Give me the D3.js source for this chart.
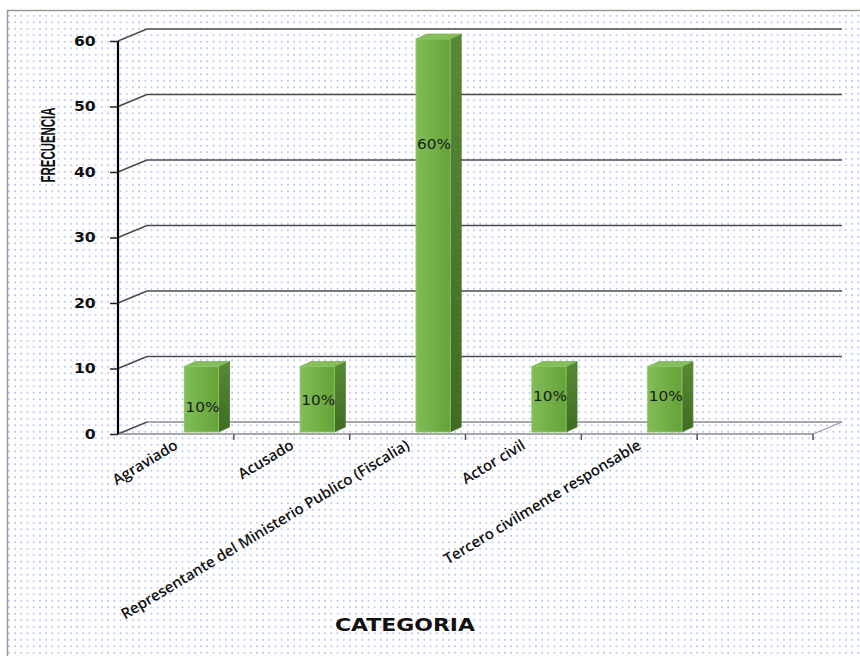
<!DOCTYPE html>
<html>
<head>
<meta charset="utf-8">
<script src="https://cdn.jsdelivr.net/npm/d3@7"></script>
<style>
  html, body { margin: 0; padding: 0; background: #fff; }
  svg { display: block; }
</style>
</head>
<body>
<svg id="chart" width="860" height="656"></svg>
<script>
// ---- data ----
const categories = ["Agraviado", "Acusado", "Representante del Ministerio Publico (Fiscalia)", "Actor civil", "Tercero civilmente responsable", ""];
const frequencies = [10, 10, 60, 10, 10, null];
const percentLabels = ["10%", "10%", "60%", "10%", "10%", ""];
const yTicks = [0, 10, 20, 30, 40, 50, 60];
const yTitle = "FRECUENCIA";
const xTitle = "CATEGORIA";
// label anchor (in value units, measured from bar base) - placement config
const labelAt = [3.8, 4.9, 44.0, 5.6, 5.6, 0];

const svg = d3.select("#chart");
const W = 860, H = 656;

// ---- defs ----
const defs = svg.append("defs");
const pat = defs.append("pattern").attr("id", "dots")
  .attr("patternUnits", "userSpaceOnUse").attr("width", 6.2).attr("height", 6.5);
pat.append("rect").attr("x", 2).attr("y", 2).attr("width", 1.5).attr("height", 1.5).attr("fill", "#9bb3e5");

const gFront = defs.append("linearGradient").attr("id", "front").attr("x1", "0").attr("x2", "1").attr("y1", "0").attr("y2", "0");
gFront.append("stop").attr("offset", "0").attr("stop-color", "#82bd57");
gFront.append("stop").attr("offset", "1").attr("stop-color", "#64a338");
const gSide = defs.append("linearGradient").attr("id", "side").attr("x1", "0").attr("x2", "0").attr("y1", "0").attr("y2", "1");
gSide.append("stop").attr("offset", "0").attr("stop-color", "#588a36");
gSide.append("stop").attr("offset", "1").attr("stop-color", "#3f6c22");

// ---- background ----
svg.append("rect").attr("x", 7).attr("y", 10).attr("width", W - 7).attr("height", H - 10).attr("fill", "#fff");
svg.append("rect").attr("x", 7).attr("y", 10).attr("width", W - 7).attr("height", H - 10).attr("fill", "url(#dots)");
svg.append("path").attr("d", `M7.5,${H} L7.5,10.5 L${W},10.5`).attr("fill", "none").attr("stroke", "#9a9a9a").attr("stroke-width", 1.5);

// ---- scales ----
const x0 = 118, x1 = 813;
const depthX = 29, depthY = -12;
const x = d3.scaleBand().domain(d3.range(categories.length)).range([x0, x1]).padding(0);
const y = d3.scaleLinear().domain([0, 60]).range([434, 41]);
const bw = x.bandwidth();

// ---- back wall gridlines ----
const grid = svg.append("g");
yTicks.forEach(t => {
  const yy = y(t);
  grid.append("line").attr("x1", x0 + depthX).attr("x2", x1 + depthX)
    .attr("y1", yy + depthY).attr("y2", yy + depthY)
    .attr("stroke", t === 0 ? "#8a8a8a" : "#4a4a4a").attr("stroke-width", t === 0 ? 1.6 : 1.6);
  grid.append("line").attr("x1", x0).attr("x2", x0 + depthX)
    .attr("y1", yy).attr("y2", yy + depthY)
    .attr("stroke", "#4a4a4a").attr("stroke-width", 1.4);
});

// floor front edge and right edge
svg.append("line").attr("x1", x0).attr("x2", x1).attr("y1", y(0)).attr("y2", y(0))
  .attr("stroke", "#8a8a8a").attr("stroke-width", 1.6);
svg.append("line").attr("x1", x1).attr("x2", x1 + depthX).attr("y1", y(0)).attr("y2", y(0) + depthY)
  .attr("stroke", "#9a9a9a").attr("stroke-width", 1.3);
// category boundary ticks
d3.range(1, categories.length + 1).forEach(i => {
  const xx = x0 + i * bw;
  svg.append("line").attr("x1", xx).attr("x2", xx).attr("y1", y(0)).attr("y2", y(0) + 6)
    .attr("stroke", "#555").attr("stroke-width", 1.5);
});

// ---- bars ----
const base = y(0) - 2;
const unit = (y(0) - y(60)) / 60;
const bx = i => x(i) + bw * 0.573;
const bwid = bw * 0.295;
const sdx = 11, sdy = -5;
const bars = svg.append("g");
frequencies.forEach((v, i) => {
  if (v == null) return;
  const left = bx(i), right = left + bwid, top = base - v * unit;
  bars.append("path").attr("d", `M${right},${top} L${right + sdx},${top + sdy} L${right + sdx},${base + sdy} L${right},${base} Z`)
    .attr("fill", "url(#side)").attr("stroke", "#4c7a2e").attr("stroke-width", 0.8);
  bars.append("path").attr("d", `M${left},${top} L${left + sdx},${top + sdy} L${right + sdx},${top + sdy} L${right},${top} Z`)
    .attr("fill", "#86be5c").attr("stroke", "#7fb455").attr("stroke-width", 0.8);
  bars.append("rect").attr("x", left).attr("y", top).attr("width", bwid).attr("height", base - top)
    .attr("fill", "url(#front)").attr("stroke", "#8cc564").attr("stroke-width", 1);
  bars.append("text").attr("x", left + bwid / 2 + 1).attr("y", base - labelAt[i] * unit)
    .attr("dy", "0.36em").attr("text-anchor", "middle")
    .attr("font-family", "DejaVu Sans, Verdana, sans-serif").attr("font-size", 14.5)
    .attr("fill", "#1a1a1a").attr("textLength", 34).attr("lengthAdjust", "spacingAndGlyphs")
    .text(percentLabels[i]);
});

// ---- y axis ----
const yAxis = d3.axisLeft(y).tickValues(yTicks).tickSize(8).tickPadding(12).tickFormat(d3.format("d"));
const gy = svg.append("g").attr("transform", `translate(${x0},0)`).call(yAxis);
gy.select(".domain").attr("stroke", "#000").attr("stroke-width", 2.2).attr("d", `M0,${y(60)}V${y(0)}`);
gy.selectAll(".tick line").attr("stroke", "#222").attr("stroke-width", 1.5);
gy.selectAll(".tick text").attr("font-family", "DejaVu Sans, Verdana, sans-serif")
  .attr("font-weight", "bold").attr("font-size", 14).attr("fill", "#111")
  .attr("transform", "scale(1.12,1)").attr("x", -20 / 1.12 - 2);

// ---- category labels ----
const cat = svg.append("g");
categories.forEach((c, i) => {
  if (!c) return;
  const cx = x(i) + bw / 2 + 3;
  cat.append("text")
    .attr("transform", `translate(${cx},448) rotate(-31)`)
    .attr("text-anchor", "end")
    .attr("font-family", "Open Sans, sans-serif").attr("font-weight", 600).attr("font-size", 15)
    .attr("fill", "#111").text(c);
});

// ---- titles ----
svg.append("text").attr("transform", "translate(55,145) rotate(-90)")
  .attr("text-anchor", "middle")
  .attr("font-family", "Liberation Sans Narrow, Arial Narrow, Liberation Sans, sans-serif")
  .attr("font-weight", "bold").attr("font-size", 20).attr("fill", "#111")
  .attr("textLength", 75).attr("lengthAdjust", "spacingAndGlyphs").text(yTitle);
svg.append("text").attr("x", 405).attr("y", 631).attr("text-anchor", "middle")
  .attr("font-family", "DejaVu Sans, Verdana, sans-serif").attr("font-weight", "bold").attr("font-size", 18)
  .attr("fill", "#111").attr("textLength", 140).attr("lengthAdjust", "spacingAndGlyphs").text(xTitle);
</script>
</body>
</html>
